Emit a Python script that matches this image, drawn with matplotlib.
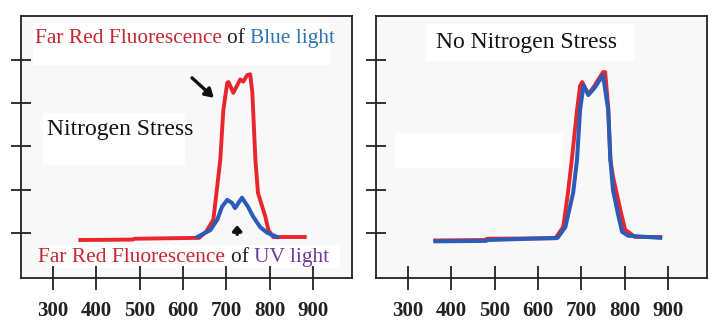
import matplotlib
matplotlib.use("Agg")
import matplotlib.pyplot as plt
from matplotlib.patches import Rectangle
from matplotlib.offsetbox import TextArea, HPacker, AnchoredOffsetbox

# ---------------- data ----------------
x_ticks = [300, 400, 500, 600, 700, 800, 900]
y_ticks = [1, 2, 3, 4, 5]

# Nitrogen stress panel
red_stress_w = [363, 484, 488, 637, 653, 670, 686, 693, 702, 705, 716, 732, 739, 748, 755, 760, 767, 773, 790, 797, 808, 881]
red_stress_v = [0.83, 0.84, 0.86, 0.88, 1.02, 1.30, 2.69, 3.84, 4.47, 4.49, 4.24, 4.55, 4.50, 4.65, 4.67, 4.24, 2.69, 1.92, 1.37, 1.06, 0.90, 0.90]
blue_stress_w = [633, 663, 679, 690, 702, 713, 720, 736, 750, 762, 778, 794, 817]
blue_stress_v = [0.90, 1.06, 1.30, 1.60, 1.76, 1.69, 1.57, 1.81, 1.60, 1.37, 1.13, 1.00, 0.90]

# No nitrogen stress panel
red_ok_w = [363, 478, 482, 640, 658, 669, 678, 690, 697, 702, 716, 730, 750, 755, 762, 767, 773, 790, 801, 824, 882]
red_ok_v = [0.82, 0.83, 0.86, 0.87, 1.13, 1.92, 2.69, 3.84, 4.40, 4.49, 4.20, 4.40, 4.72, 4.72, 3.90, 2.69, 2.30, 1.53, 1.07, 0.90, 0.90]
blue_ok_w = [363, 480, 484, 645, 663, 681, 690, 697, 705, 716, 730, 750, 762, 767, 773, 785, 794, 808, 882]
blue_ok_v = [0.80, 0.81, 0.83, 0.88, 1.13, 1.92, 2.69, 3.84, 4.42, 4.19, 4.35, 4.65, 3.84, 2.69, 1.99, 1.41, 1.02, 0.93, 0.88]

RED = "#e8262b"
BLUE = "#2a5cb8"
TXT_RED = "#c5262f"
TXT_BLUE = "#2f75b5"
TXT_PURPLE = "#6b3d9e"
SERIF = ["Liberation Serif", "DejaVu Serif"]

fig = plt.figure(figsize=(7.13, 3.21), dpi=100)
fig.patch.set_facecolor("white")
ax1 = fig.add_axes([21/713, 1-278/321, 331/713, 262/321])
ax2 = fig.add_axes([376/713, 1-278/321, 331/713, 262/321])


def style(ax):
    ax.set_facecolor("#f8f8f9")
    ax.set_xlim(226, 990)
    ax.set_ylim(-0.05, 6.02)
    ax.set_xticks(x_ticks)
    ax.set_xticklabels([str(t) for t in x_ticks], family=SERIF, fontsize=15,
                       fontweight="bold", color="#222222")
    ax.set_yticks(y_ticks)
    ax.set_yticklabels([])
    ax.tick_params(axis="x", direction="inout", length=17, width=1.3, pad=8, color="#222222")
    ax.tick_params(axis="y", direction="inout", length=14, width=1.3, color="#222222")
    for s in ax.spines.values():
        s.set_linewidth(1.3)
        s.set_color("#222222")


def white_box(ax, x0, y0, x1, y1):
    ax.add_patch(Rectangle((x0, y0), x1 - x0, y1 - y0, transform=ax.transAxes,
                           facecolor="white", edgecolor="none", zorder=1))


def colored_line(ax, parts, xy, size):
    boxes = [TextArea(t, textprops=dict(color=c, family=SERIF, fontsize=size)) for t, c in parts]
    pack = HPacker(children=boxes, align="baseline", pad=0, sep=0)
    anch = AnchoredOffsetbox(loc="center", child=pack, pad=0, frameon=False,
                             bbox_to_anchor=xy, bbox_transform=ax.transAxes, borderpad=0)
    anch.set_zorder(5)
    ax.add_artist(anch)


style(ax1)
style(ax2)

# left panel
white_box(ax1, 0.036, 0.813, 0.934, 0.973)
white_box(ax1, 0.066, 0.431, 0.495, 0.63)
white_box(ax1, 0.079, 0.038, 0.964, 0.126)
ax1.plot(red_stress_w, red_stress_v, color=RED, lw=2.8, zorder=3, solid_joinstyle="round")
ax1.plot(blue_stress_w, blue_stress_v, color=BLUE, lw=2.9, zorder=4, solid_joinstyle="round")
colored_line(ax1, [("Far Red Fluorescence ", TXT_RED), ("of ", "#222222"), ("Blue light", TXT_BLUE)],
             (0.495, 0.916), 15.4)
colored_line(ax1, [("Far Red Fluorescence ", TXT_RED), ("of ", "#222222"), ("UV light", TXT_PURPLE)],
             (0.492, 0.08), 15.4)
ax1.text(0.30, 0.565, "Nitrogen Stress", transform=ax1.transAxes, ha="center", va="center",
         family=SERIF, fontsize=17, color="#111111", zorder=5)
ax1.annotate("", xy=(676, 4.08), xytext=(616, 4.63),
             arrowprops=dict(arrowstyle="-|>,head_width=0.3,head_length=0.5", color="#111111", lw=2.4),
             zorder=5)
ax1.annotate("", xy=(725, 1.24), xytext=(725, 0.9),
             arrowprops=dict(arrowstyle="-|>,head_width=0.25,head_length=0.3", color="#111111", lw=2.6),
             zorder=5)

# right panel
white_box(ax2, 0.057, 0.42, 0.565, 0.553)
white_box(ax2, 0.15, 0.83, 0.78, 0.97)
ax2.plot(red_ok_w, red_ok_v, color=RED, lw=2.8, zorder=3, solid_joinstyle="round")
ax2.plot(blue_ok_w, blue_ok_v, color=BLUE, lw=2.9, zorder=4, solid_joinstyle="round")
ax2.text(0.456, 0.90, "No Nitrogen Stress", transform=ax2.transAxes, ha="center", va="center",
         family=SERIF, fontsize=17, color="#111111", zorder=5)

fig.savefig("out.png", dpi=100)
